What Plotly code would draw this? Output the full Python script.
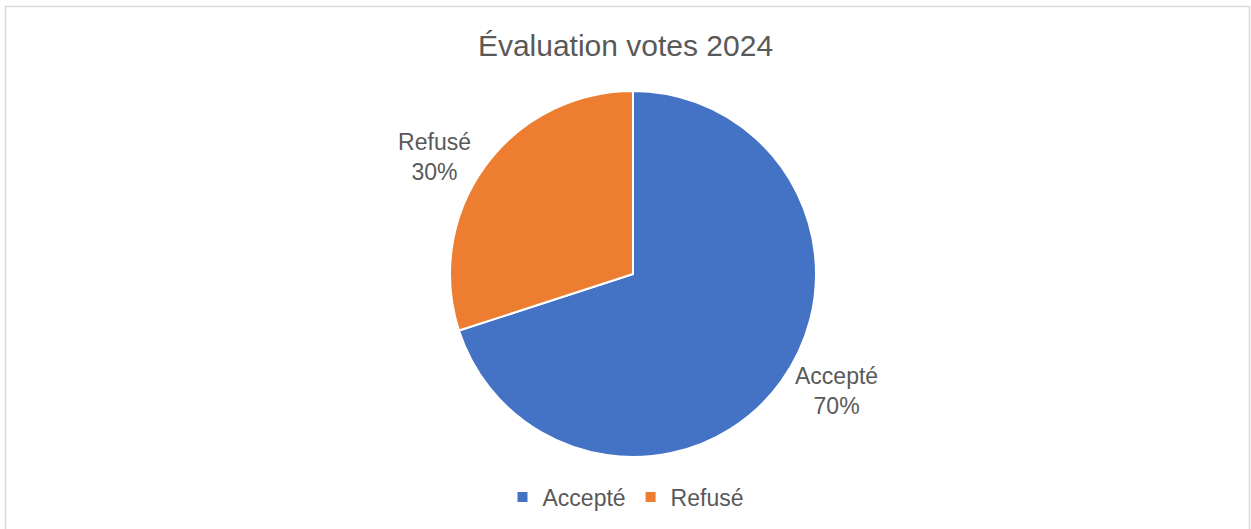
import plotly.graph_objects as go

labels = ["Accepté", "Refusé"]
values = [70, 30]
colors = ["#4472C4", "#ED7D31"]
title = "Évaluation votes 2024"

W, H = 1251, 529
cx, cy, r = 633, 274, 183

fig = go.Figure(go.Pie(
    labels=labels,
    values=values,
    sort=False,
    direction="clockwise",
    rotation=0,
    marker=dict(colors=colors, line=dict(color="white", width=2)),
    textposition="outside",
    texttemplate="%{label}<br>%{percent:.0%}",
    textfont=dict(family="Liberation Sans, Arial, sans-serif", size=23, color="#595959"),
    domain=dict(x=[(cx - r) / W, (cx + r) / W], y=[(H - cy - r) / H, (H - cy + r) / H]),
    hoverinfo="label+percent",
))

fig.update_layout(
    width=W, height=H,
    margin=dict(l=0, r=0, t=0, b=0),
    paper_bgcolor="white",
    plot_bgcolor="white",
    font=dict(family="Liberation Sans, Arial, sans-serif", color="#595959"),
    title=dict(text=title, x=0.5, xanchor="center", y=1 - 45 / H, yanchor="middle",
               font=dict(size=30, color="#595959")),
    showlegend=True,
    legend=dict(orientation="h", x=0.5, xanchor="center", y=1 - 497 / H, yanchor="middle",
                font=dict(size=23, color="#595959"), itemwidth=30, bgcolor="rgba(0,0,0,0)"),
    shapes=[dict(type="rect", xref="paper", yref="paper",
                 x0=5.5 / W, x1=1249.5 / W, y0=-0.05, y1=1 - 6.5 / H,
                 line=dict(color="#D9D9D9", width=1.5), fillcolor="rgba(0,0,0,0)", layer="below")],
)

fig.write_html("out.html")
